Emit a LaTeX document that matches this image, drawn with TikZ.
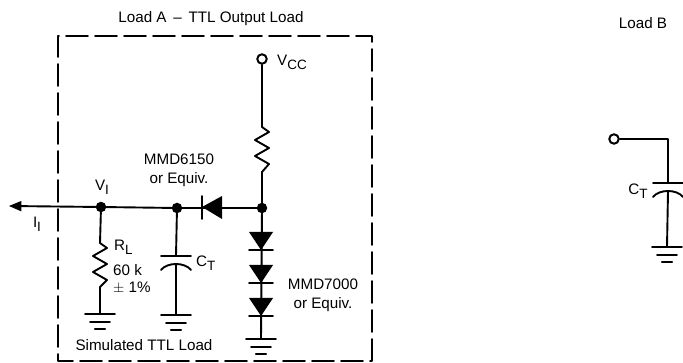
\documentclass[tikz,border=0pt]{standalone}
\usepackage{fontspec}
\setmainfont{Liberation Sans}
\usetikzlibrary{arrows}
\newcommand{\lblsub}[2]{#1\raisebox{-4pt}{\fontsize{13.5}{13.5}\selectfont #2}}
\tikzset{
  wire/.style={line width=1.9pt},
  frame/.style={line width=1.7pt,dash pattern=on 22pt off 7pt},
  lbl/.style={inner sep=0pt,font=\fontsize{15.2}{18}\selectfont,align=center},
  dot/.style={circle,fill=black,inner sep=0pt,minimum size=10.5pt},
  term/.style={circle,draw,line width=2pt,fill=white,inner sep=0pt,minimum size=9.5pt},
  gnd/.pic={
    \draw [wire] (-15,0)-- (15,0);
    \draw [wire] (-10,8)-- (10,8);
    \draw [line width=2.4pt] (-5,15)-- (5,15);
  },
  capplate/.pic={
    \draw [wire] (-15,0)-- (15,0);
    \draw [wire] (-15,14) .. controls (-9,6) and (9,6) .. (15,14);
  },
  diodedown/.pic={
    \fill (-12,0)-- (12,0)-- (0,18)-- cycle;
    \draw [wire] (-12,18)-- (12,18);
  }
}
\begin{document}
\begin{tikzpicture}[line cap=round,line join=round,>=triangle 45,x=1pt,y=-1pt]
\useasboundingbox (0,0) rectangle (683,363);
% load A
\draw [frame] (372,361)-- (372,36)-- (58,36)-- (58,361)-- cycle;
\node [lbl] (titlea) at (211,19) {Load A\, -- \,TTL Output Load};
\node [lbl] (titleb) at (643,23) {Load B};
\node [term] (vcc) at (262,59) {};
\node [lbl,anchor=west] (vcclbl) at (277,62) {\lblsub{V}{CC}};
\node [dot] (vi) at (101,207) {};
\node [dot] (nodect) at (177,208) {};
\node [dot] (nodetop) at (262,208) {};
\coordinate (out) at (9,206);
\coordinate (rtopa) at (262,127);
\coordinate (rtopb) at (262,172);
\coordinate (rla) at (100,243);
\coordinate (rlb) at (100,287);
\coordinate (gnda) at (100,314);
\coordinate (gndb) at (176,315);
\coordinate (gndc) at (261,339);
\coordinate (capa) at (176,256);
\coordinate (capb) at (176,264);
% resistors
\draw [wire] (vcc)-- (rtopa)-- ++(7,5)-- ++(-14,8)-- ++(14,8)-- ++(-14,8)-- ++(14,8)-- (rtopb)-- (nodetop);
\draw [wire] (vi)-- (rla)-- ++(7,5)-- ++(-14,8)-- ++(14,8)-- ++(-14,8)-- ++(14,8)-- (rlb)-- (gnda);
% main line
\draw [wire,->] (nodect)-- (vi)-- (out);
\draw [wire] (nodect)-- (nodetop);
\draw [wire] (nodect)-- (capa);
\draw [wire] (capb)-- (gndb);
\draw [wire] (nodetop)-- (gndc);
\path (capa) pic {capplate};
\path (gnda) pic {gnd};
\path (gndb) pic {gnd};
\path (gndc) pic {gnd};
% diodes
\fill (202,207)-- (222,196)-- (222,219)-- cycle;
\draw [wire] (202,196)-- (202,219);
\path (261,232) pic {diodedown};
\path (261,265) pic {diodedown};
\path (261,298) pic {diodedown};
\node [lbl] (i1) at (37,224) {\lblsub{I}{I}};
\node [lbl] (v1) at (102,187) {\lblsub{V}{I}};
\node [lbl] (d1) at (179,170) {MMD6150\\[1pt]or Equiv.};
\node [lbl,anchor=west] (rl) at (114,247) {\lblsub{R}{L}};
\node [lbl,anchor=west] (rv) at (113,270) {60 k};
\node [lbl,anchor=west] (rt) at (113,288) {$\pm$ 1\%};
\node [lbl,anchor=west] (ct) at (196,263) {\lblsub{C}{T}};
\node [lbl] (d2) at (323,295) {MMD7000\\[1pt]or Equiv.};
\node [lbl] (sim) at (144,345) {Simulated TTL Load};
% load B
\node [term] (inb) at (614,139) {};
\coordinate (corner) at (668,139);
\coordinate (capc) at (668,183);
\coordinate (capd) at (668,192);
\coordinate (gndd) at (667,247);
\draw [wire] (inb)-- (corner)-- (capc);
\draw [wire] (capd)-- (gndd);
\path (capc) pic {capplate};
\path (gndd) pic {gnd};
\node [lbl] (ctb) at (638,191) {\lblsub{C}{T}};
\end{tikzpicture}
\end{document}
